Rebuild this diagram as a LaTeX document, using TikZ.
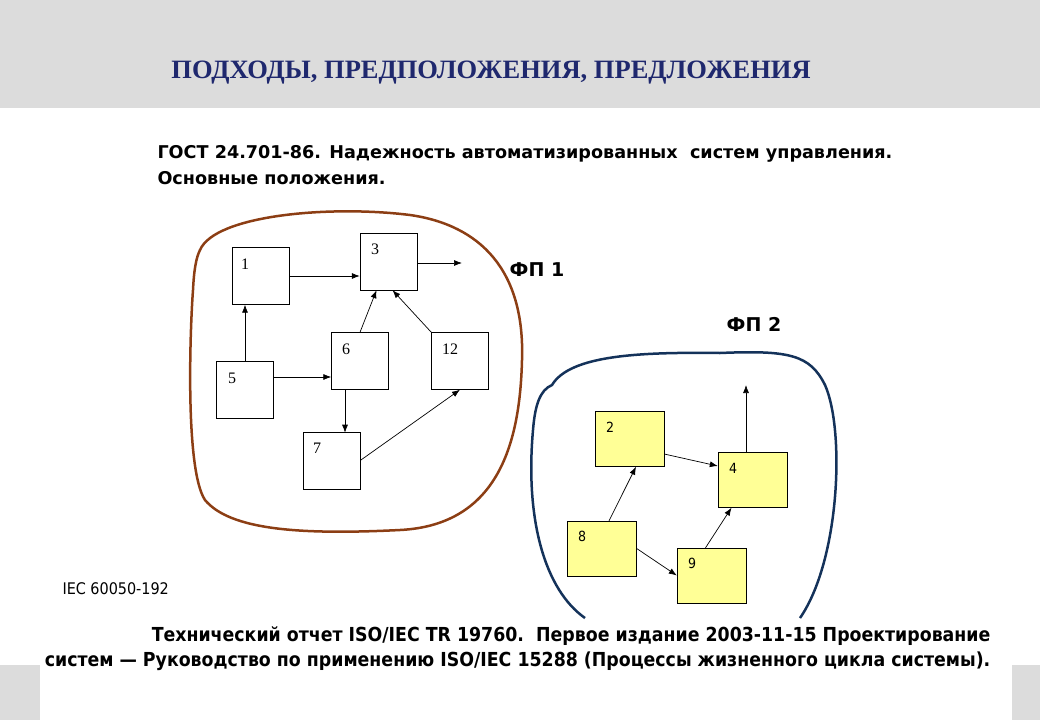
\documentclass[tikz,border=0pt]{standalone}
\usepackage{fontspec}
\setmainfont{Liberation Serif}
\setsansfont{DejaVu Sans Condensed}
\newfontfamily\widesans{DejaVu Sans}
\usetikzlibrary{arrows.meta}
\definecolor{bg}{RGB}{220,220,220}
\definecolor{navy}{RGB}{31,40,110}
\definecolor{brownc}{RGB}{140,62,20}
\definecolor{bluec}{RGB}{20,50,90}
\definecolor{yel}{RGB}{255,255,150}
\tikzset{
 wbox/.style={draw,fill=white,minimum width=57pt,minimum height=57pt,inner sep=0pt},
 ybox/.style={draw,fill=yel,minimum width=69pt,minimum height=55pt,inner sep=0pt},
 lab/.style={anchor=north west,font=\fontsize{16}{16}\selectfont,inner sep=0pt},
 slab/.style={anchor=north west,font=\sffamily\fontsize{14}{14}\selectfont,inner sep=0pt},
 arr/.style={-{Latex[length=8pt,width=6pt]},line width=0.7pt},
}
\begin{document}
\begin{tikzpicture}[x=1pt,y=-1pt]
\useasboundingbox (0,0) rectangle (1040,720);
\fill[bg] (0,0) rectangle (1040,108);
\fill[bg] (0,665) rectangle (1040,720);
\fill[white] (40,665) rectangle (1012,720);
\node[font=\bfseries\fontsize{26.5}{26.5}\selectfont,text=navy] (title) at (491,73) {ПОДХОДЫ, ПРЕДПОЛОЖЕНИЯ, ПРЕДЛОЖЕНИЯ};
\node[anchor=west,align=left,font=\widesans\bfseries\fontsize{17.6}{26}\selectfont] (gost) at (154,165) {ГОСТ 24.701-86. Надежность автоматизированных\ \ систем управления.\\Основные положения.};
% blobs
\draw[brownc,line width=2.5pt] (200,250) .. controls (215,215) and (330,205) .. (410,215)
 .. controls (480,225) and (525,270) .. (522,360)
 .. controls (520,440) and (500,525) .. (400,530)
 .. controls (300,535) and (230,530) .. (205,500)
 .. controls (185,470) and (190,330) .. (193,290)
 .. controls (194,270) and (196,258) .. (200,250);
\draw[bluec,line width=2.5pt] (585,618) .. controls (545,590) and (525,520) .. (533,430)
 .. controls (535,405) and (540,390) .. (552,385)
 .. controls (570,355) and (640,352) .. (720,353)
 .. controls (790,350) and (810,355) .. (825,385)
 .. controls (845,430) and (840,560) .. (800,618);
\node[font=\widesans\bfseries\fontsize{19}{19}\selectfont] (fp1) at (537,270) {ФП 1};
\node[font=\widesans\bfseries\fontsize{19}{19}\selectfont] (fp2) at (754,324) {ФП 2};
% left boxes
\node[wbox] (b1) at (260.5,276) {}; \node[lab] at (241,259) {1};
\node[wbox] (b3) at (388.5,261.5) {}; \node[lab] at (371,244) {3};
\node[wbox] (b6) at (360,361) {}; \node[lab] at (342,344) {6};
\node[wbox] (b12) at (460,361) {}; \node[lab] at (442,344) {12};
\node[wbox] (b5) at (245,390) {}; \node[lab] at (228,373) {5};
\node[wbox] (b7) at (331.5,460.5) {}; \node[lab] at (313,443) {7};
\coordinate (o3) at (462,263);
\draw[arr] (b1.east) -- (b1.east -| b3.west);
\draw[arr] (b3.east |- o3) -- (o3);
\draw[arr] (b5.north) -- (b1.south -| b5.north);
\draw[arr] (b5.east |- 0,377) -- (b6.west |- 0,377);
\draw[arr] (b6.north) -- ([xshift=-12pt]b3.south);
\draw[arr] (b12.north west) -- ([xshift=4pt]b3.south);
\draw[arr] ([xshift=-15pt]b6.south) -- ([xshift=-15pt,yshift=-43pt]b6.south);
\draw[arr] (b7.east) -- (b12.south);
% right boxes
\node[ybox] (b2) at (629.5,439) {}; \node[slab] at (606,422) {2};
\node[ybox] (b4) at (752.5,480) {}; \node[slab] at (729,463) {4};
\node[ybox] (b8) at (602,548.5) {}; \node[slab] at (578,531) {8};
\node[ybox] (b9) at (711.5,575.5) {}; \node[slab] at (688,558) {9};
\coordinate (o4) at (746,385);
\draw[arr] ([yshift=-15pt]b2.east) -- ([yshift=14pt]b4.west);
\draw[arr] (b4.north -| o4) -- (o4);
\draw[arr] ([xshift=7pt]b8.north) -- ([xshift=6.5pt]b2.south);
\draw[arr] (b8.east) -- (b9.west);
\draw[arr] ([xshift=-6pt]b9.north) -- ([xshift=-21pt]b4.south);
\node[anchor=west,font=\sffamily\fontsize{16}{16}\selectfont] (iec) at (59,589) {IEC 60050-192};
\node[anchor=east,align=right,font=\sffamily\bfseries\fontsize{19.3}{25}\selectfont] (rep) at (994,649) {Технический отчет ISO/IEC TR 19760.\ \ Первое издание 2003-11-15 Проектирование\\систем — Руководство по применению ISO/IEC 15288 (Процессы жизненного цикла системы).};
\end{tikzpicture}
\end{document}
